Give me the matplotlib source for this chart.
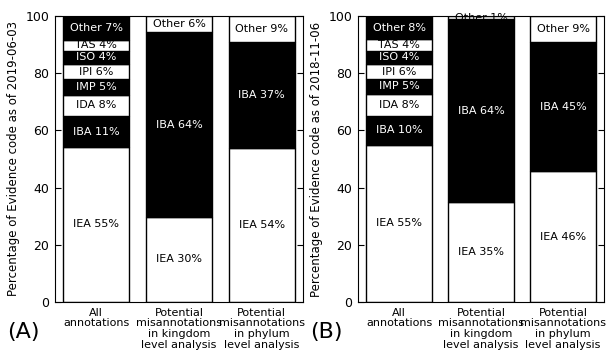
import matplotlib
matplotlib.use("Agg")
import matplotlib.pyplot as plt

categories = ["All\nannotations",
              "Potential\nmisannotations\nin kingdom\nlevel analysis",
              "Potential\nmisannotations\nin phylum\nlevel analysis"]

# Panel A (2019-06-03): segments bottom -> top
a_codes = [["IEA", "IBA", "IDA", "IMP", "IPI", "ISO", "TAS", "Other"],
           ["IEA", "IBA", "Other"],
           ["IEA", "IBA", "Other"]]
a_values = [[54.2, 10.8, 7.5, 5.4, 5.3, 4.6, 3.9, 8.3],
            [29.8, 64.5, 5.7],
            [53.9, 37.1, 9.0]]
a_labels = [[55, 11, 8, 5, 6, 4, 4, 7],
            [30, 64, 6],
            [54, 37, 9]]

# Panel B (2018-11-06)
b_codes = [["IEA", "IBA", "IDA", "IMP", "IPI", "ISO", "TAS", "Other"],
           ["IEA", "IBA", "Other"],
           ["IEA", "IBA", "Other"]]
b_values = [[54.9, 10.2, 7.6, 5.3, 5.1, 4.8, 3.9, 8.2],
            [34.9, 63.9, 1.2],
            [45.7, 45.3, 9.0]]
b_labels = [[55, 10, 8, 5, 6, 4, 4, 8],
            [35, 64, 1],
            [46, 45, 9]]

ylabels = ["Percentage of Evidence code as of 2019-06-03",
           "Percentage of Evidence code as of 2018-11-06"]
panel_tags = ["(A)", "(B)"]

W, H = 611, 353
fig = plt.figure(figsize=(W / 100, H / 100), dpi=100)
plt.rcParams['font.family'] = ['DejaVu Sans']

axes_px = [(55, 303), (358, 604)]
top_px, bot_px = 16, 302

def draw(ax, codes, values, labels):
    for i in range(len(categories)):
        bottom = 0
        for j, (c, v, l) in enumerate(zip(codes[i], values[i], labels[i])):
            col = 'white' if j % 2 == 0 else 'black'
            tcol = 'black' if j % 2 == 0 else 'white'
            ax.bar(i, v, bottom=bottom, width=0.8, color=col,
                   edgecolor='black', linewidth=1.0)
            ax.text(i, bottom + v / 2, f"{c} {l}%", ha='center', va='center',
                    color=tcol, fontsize=8)
            bottom += v
    ax.set_xlim(-0.5, 2.5)
    ax.set_ylim(0, 100)
    ax.set_xticks(range(len(categories)))
    ax.set_xticklabels(categories, fontsize=8, linespacing=1.1)
    ax.set_yticks([0, 20, 40, 60, 80, 100])
    ax.tick_params(axis='x', length=0, pad=4)
    ax.tick_params(axis='y', direction='in', left=True, right=True,
                   length=4, labelsize=9, pad=4)

for k, (l, r) in enumerate(axes_px):
    ax = fig.add_axes([l / W, 1 - bot_px / H, (r - l) / W, (bot_px - top_px) / H])
    if k == 0:
        draw(ax, a_codes, a_values, a_labels)
    else:
        draw(ax, b_codes, b_values, b_labels)
    ax.set_ylabel(ylabels[k], fontsize=8.5, labelpad=4)
    fig.text((l - 32) / W, 1 - 332 / H, panel_tags[k], fontsize=16,
             ha='center', va='center')

fig.savefig("out.png", dpi=100)
